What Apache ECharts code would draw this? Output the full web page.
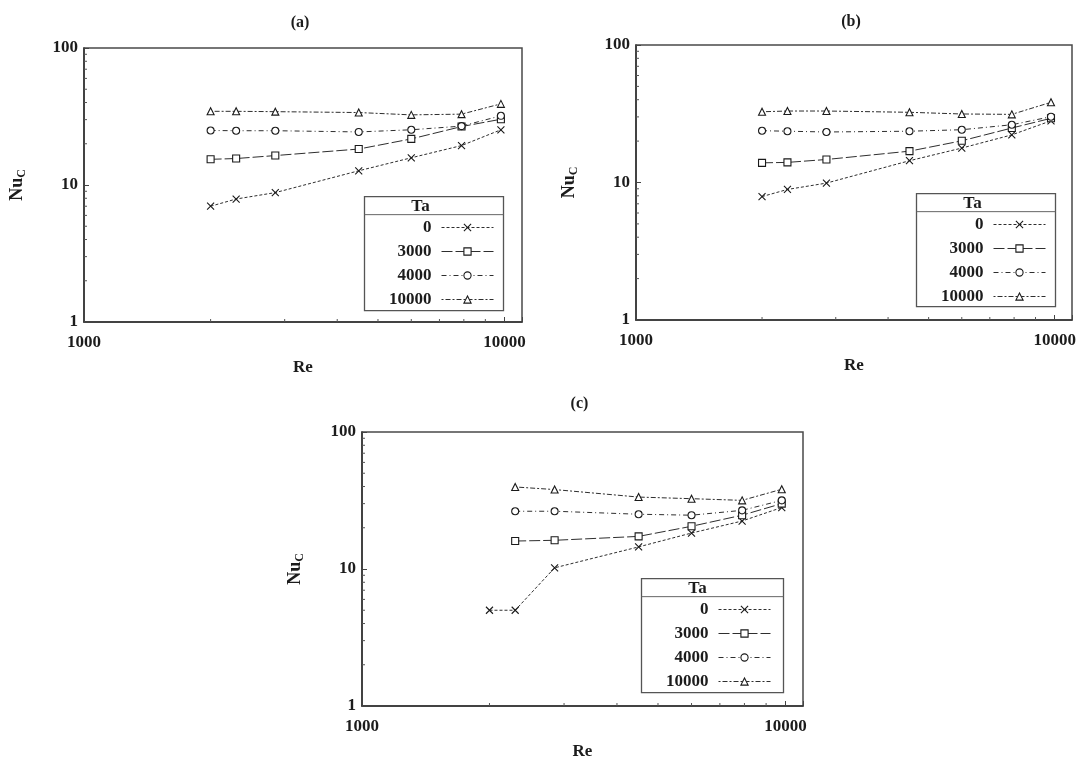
<!DOCTYPE html>
<html>
<head>
<meta charset="utf-8">
<script src="https://cdn.jsdelivr.net/npm/echarts@6/dist/echarts.min.js"></script>
<style>
  html, body { margin: 0; padding: 0; background: #ffffff; }
  #chart { width: 1085px; height: 761px; }
</style>
</head>
<body>
<div id="chart"></div>
<script>
// Reynolds numbers of the measurement stations
const reAll = [2000, 2300, 2850, 4500, 6000, 7900, 9800];
const reFrom2300 = [2300, 2850, 4500, 6000, 7900, 9800];

// Taylor numbers (legend entries)
const taNames = ['0', '3000', '4000', '10000'];

// Panel (a): Nu_C versus Re
const nuA_ta0 = [7.0, 7.9, 8.8, 12.7, 15.8, 19.4, 25.3];
const nuA_ta3000 = [15.4, 15.6, 16.4, 18.3, 21.7, 26.7, 30.2];
const nuA_ta4000 = [25.0, 24.9, 24.9, 24.4, 25.3, 26.9, 32.0];
const nuA_ta10000 = [34.5, 34.5, 34.3, 33.8, 32.5, 32.9, 39.1];

// Panel (b)
const nuB_ta0 = [7.9, 8.9, 9.9, 14.4, 17.8, 22.2, 28.1];
const nuB_ta3000 = [13.9, 14.0, 14.7, 16.9, 20.1, 24.9, 29.3];
const nuB_ta4000 = [23.8, 23.6, 23.3, 23.6, 24.2, 26.3, 30.1];
const nuB_ta10000 = [32.7, 33.1, 33.1, 32.4, 31.5, 31.3, 38.3];

// Panel (c): the Ta > 0 runs start at Re = 2300
const nuC_ta0 = [5.0, 5.0, 10.2, 14.5, 18.3, 22.4, 28.1];
const nuC_ta3000 = [16.0, 16.2, 17.3, 20.5, 24.7, 30.0];
const nuC_ta4000 = [26.4, 26.4, 25.1, 24.7, 26.8, 31.7];
const nuC_ta10000 = [39.7, 38.0, 33.5, 32.6, 31.7, 38.2];

// Axis extents and log-decade minor tick values
const reMin = 1000, reMax = 11000;
const nuMin = 1, nuMax = 100;
const reMinorTicks = [2000, 3000, 4000, 5000, 6000, 7000, 8000, 9000];
const nuMinorTicks = [2, 3, 4, 5, 6, 7, 8, 9, 20, 30, 40, 50, 60, 70, 80, 90];

const panelTitles = ['(a)', '(b)', '(c)'];
const legendHeader = 'Ta';

const FONT = '"Liberation Serif", "DejaVu Serif", "Times New Roman", serif';
const INK = '#1c1c1c';
const LINE = '#2e2e2e';

// plot frames (pixels)
const grids = [
  { left: 84, top: 48, width: 438, height: 274 },
  { left: 636, top: 45, width: 436, height: 275 },
  { left: 362, top: 432, width: 441, height: 274 }
];
const titleTops = [15, 14, 396];
// legend table boxes (pixels)
const legendBoxes = [
  { x: 362, y: 196, w: 139, h: 114 },
  { x: 914, y: 193, w: 139, h: 113 },
  { x: 639, y: 578, w: 142, h: 114 }
];

const panels = [
  { re: [reAll, reAll, reAll, reAll], nu: [nuA_ta0, nuA_ta3000, nuA_ta4000, nuA_ta10000] },
  { re: [reAll, reAll, reAll, reAll], nu: [nuB_ta0, nuB_ta3000, nuB_ta4000, nuB_ta10000] },
  { re: [reAll, reFrom2300, reFrom2300, reFrom2300], nu: [nuC_ta0, nuC_ta3000, nuC_ta4000, nuC_ta10000] }
];

const crossPath = 'path://M0,0L10,10M10,0L0,10';
const seriesLook = [
  { symbol: crossPath, size: 7, dash: [3, 2] },
  { symbol: 'rect', size: 7, dash: [11, 3] },
  { symbol: 'circle', size: 7, dash: [5, 3, 1, 3] },
  { symbol: 'triangle', size: 7, dash: [2, 2, 5, 2] }
];

function zip(xs, ys) { return xs.map((x, i) => [x, ys[i]]); }

const option = {
  backgroundColor: '#ffffff',
  animation: false,
  title: [],
  grid: [],
  xAxis: [],
  yAxis: [],
  legend: [],
  series: [],
  graphic: []
};

grids.forEach((g, p) => {
  option.grid.push({
    left: g.left, top: g.top, width: g.width, height: g.height,
    show: true, borderColor: '#4a4a4a', borderWidth: 1.5, backgroundColor: 'transparent'
  });
  option.title.push({
    text: panelTitles[p],
    left: g.left + g.width / 2 - 3,
    top: titleTops[p],
    padding: 0,
    textAlign: 'center',
    textStyle: { fontFamily: FONT, fontSize: 16, fontWeight: 'bold', color: INK }
  });
  option.xAxis.push({
    type: 'log', logBase: 10, gridIndex: p, min: reMin, max: reMax,
    name: 'Re', nameLocation: 'middle', nameGap: 37,
    nameTextStyle: { fontFamily: FONT, fontSize: 17, fontWeight: 'bold', color: INK },
    axisLine: { show: true, lineStyle: { color: '#333', width: 1.5 } },
    axisTick: { show: true, inside: true, length: 5, lineStyle: { color: '#444' } },
    splitLine: { show: false },
    axisLabel: {
      margin: 12, fontFamily: FONT, fontSize: 17, fontWeight: 'bold', color: INK,
      formatter: v => {
        const e = Math.log10(v);
        return Math.abs(e - Math.round(e)) < 1e-6 ? String(Math.round(v)) : '';
      }
    }
  });
  option.yAxis.push({
    type: 'log', logBase: 10, gridIndex: p, min: nuMin, max: nuMax,
    name: 'Nu{c|C}', nameLocation: 'middle', nameGap: 56, nameRotate: 90,
    nameTextStyle: {
      fontFamily: FONT, fontSize: 18, fontWeight: 'bold', color: INK,
      rich: {
        c: { fontFamily: FONT, fontSize: 12, fontWeight: 'bold', color: INK, verticalAlign: 'bottom', lineHeight: 22 }
      }
    },
    axisLine: { show: true, lineStyle: { color: '#333', width: 1.5 } },
    axisTick: { show: true, inside: true, length: 5, lineStyle: { color: '#444' } },
    splitLine: { show: false },
    axisLabel: {
      margin: 6, fontFamily: FONT, fontSize: 17, fontWeight: 'bold', color: INK,
      formatter: v => String(Math.round(v))
    }
  });

  // minor ticks along the bottom (Re) and left (Nu) edges
  option.series.push({
    type: 'custom', xAxisIndex: p, yAxisIndex: p, silent: true, z: 3,
    data: reMinorTicks.map(v => [v, nuMin]),
    renderItem: (params, api) => {
      const pt = api.coord([api.value(0), nuMin]);
      return { type: 'line', shape: { x1: pt[0], y1: pt[1], x2: pt[0], y2: pt[1] - 3 },
               style: { stroke: '#555', lineWidth: 1 } };
    }
  });
  option.series.push({
    type: 'custom', xAxisIndex: p, yAxisIndex: p, silent: true, z: 3,
    data: nuMinorTicks.map(v => [reMin, v]),
    renderItem: (params, api) => {
      const pt = api.coord([reMin, api.value(1)]);
      return { type: 'line', shape: { x1: pt[0], y1: pt[1], x2: pt[0] + 3, y2: pt[1] },
               style: { stroke: '#555', lineWidth: 1 } };
    }
  });

  // data series
  taNames.forEach((name, k) => {
    const look = seriesLook[k];
    option.series.push({
      type: 'line', name: name, xAxisIndex: p, yAxisIndex: p,
      data: zip(panels[p].re[k], panels[p].nu[k]),
      symbol: look.symbol, symbolSize: look.size, showAllSymbol: true,
      lineStyle: { color: LINE, width: 1, type: look.dash },
      itemStyle: { color: '#ffffff', borderColor: '#1a1a1a', borderWidth: 1.1 },
      emphasis: { disabled: true },
      z: 5
    });
  });

  // legend table: frame, header and rule
  const b = legendBoxes[p];
  option.graphic.push({
    type: 'group', left: b.x, top: b.y, z: 10,
    children: [
      { type: 'rect', shape: { x: 0, y: 0, width: b.w, height: b.h },
        style: { fill: '#ffffff', stroke: '#555', lineWidth: 1.3 } },
      { type: 'line', shape: { x1: 0, y1: 18, x2: b.w, y2: 18 },
        style: { stroke: '#666', lineWidth: 1 } },
      { type: 'text', x: 56, y: 9.5,
        style: { text: legendHeader, fontFamily: FONT, fontSize: 17, fontWeight: 'bold', fill: INK,
                 align: 'center', verticalAlign: 'middle' } }
    ]
  });
  option.legend.push({
    data: taNames,
    orient: 'vertical',
    align: 'right',
    right: 1085 - (b.x + 132),
    top: b.y + 23,
    padding: 0,
    itemWidth: 52,
    itemHeight: 9,
    itemGap: 7,
    selectedMode: false,
    z: 12,
    lineStyle: { width: 1 },
    itemStyle: { borderWidth: 1.1 },
    textStyle: { fontFamily: FONT, fontSize: 17, fontWeight: 'bold', color: INK, padding: [0, 5, 0, 0] }
  });
});

const chart = echarts.init(document.getElementById('chart'), null, { renderer: 'canvas' });
chart.setOption(option);
</script>
</body>
</html>
